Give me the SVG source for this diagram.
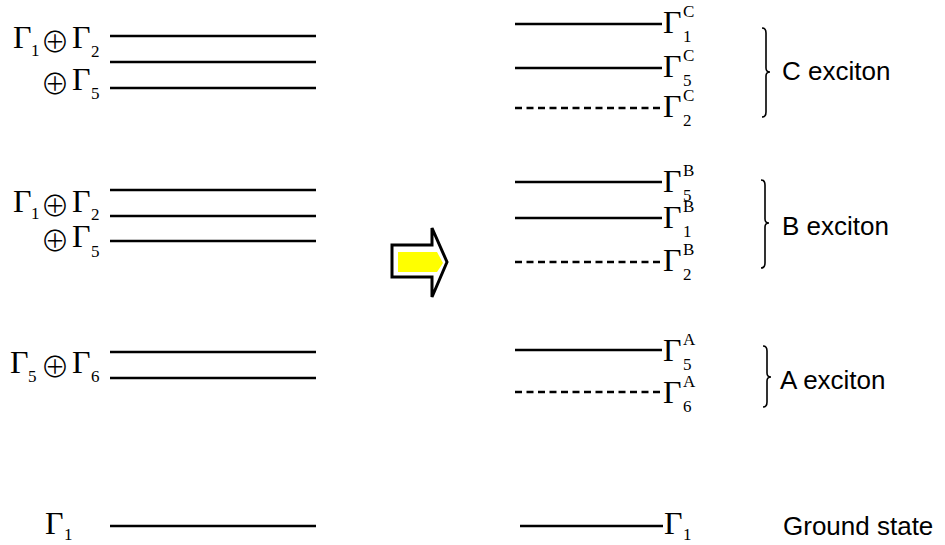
<svg xmlns="http://www.w3.org/2000/svg" width="945" height="545" viewBox="0 0 945 545">
<style>
.g{font-family:"Liberation Serif","DejaVu Serif",serif;font-size:32px;fill:#000}
.s{font-family:"Liberation Serif","DejaVu Serif",serif;font-size:17px;fill:#000}
.o{font-family:"Noto Sans CJK JP","DejaVu Sans",sans-serif;font-weight:300;font-size:29px;fill:#000;text-anchor:middle}
.t{font-family:"Liberation Sans",Arial,sans-serif;font-size:26px;fill:#000}
.l{stroke:#000;stroke-width:2.6;fill:none}
.d{stroke:#000;stroke-width:2.6;fill:none;stroke-dasharray:7 4.5}
.b{stroke:#000;stroke-width:1.6;fill:none}
</style>
<rect width="945" height="545" fill="#fff"/>
<g id="connectors">
<line class="l" x1="110" y1="36" x2="316" y2="36"/>
<line class="l" x1="110" y1="62" x2="316" y2="62"/>
<line class="l" x1="110" y1="88" x2="316" y2="88"/>
<line class="l" x1="110" y1="190" x2="316" y2="190"/>
<line class="l" x1="110" y1="216" x2="316" y2="216"/>
<line class="l" x1="110" y1="241" x2="316" y2="241"/>
<line class="l" x1="110" y1="352" x2="316" y2="352"/>
<line class="l" x1="110" y1="378" x2="316" y2="378"/>
<line class="l" x1="110" y1="526" x2="316" y2="526"/>
<line class="l" x1="515" y1="24" x2="662" y2="24"/>
<line class="l" x1="515" y1="68" x2="662" y2="68"/>
<line class="d" x1="515" y1="108" x2="662" y2="108"/>
<line class="l" x1="515" y1="182" x2="662" y2="182"/>
<line class="l" x1="515" y1="218" x2="662" y2="218"/>
<line class="d" x1="515" y1="262" x2="662" y2="262"/>
<line class="l" x1="515" y1="350" x2="662" y2="350"/>
<line class="d" x1="515" y1="392" x2="662" y2="392"/>
<line class="l" x1="520" y1="526" x2="663" y2="526"/>
</g>
<g id="left-C">
<text class="g" x="13" y="48">Γ</text><text class="s" x="31" y="56">1</text>
<text class="o" x="55" y="53">⊕</text>
<text class="g" x="72" y="48">Γ</text><text class="s" x="91" y="57">2</text>
<text class="o" x="55" y="95">⊕</text>
<text class="g" x="72" y="90">Γ</text><text class="s" x="91" y="99">5</text>
</g>
<g id="left-B">
<text class="g" x="13" y="212">Γ</text><text class="s" x="31" y="219">1</text>
<text class="o" x="55" y="217">⊕</text>
<text class="g" x="72" y="212">Γ</text><text class="s" x="91" y="220">2</text>
<text class="o" x="55" y="252">⊕</text>
<text class="g" x="72" y="247">Γ</text><text class="s" x="91" y="257">5</text>
</g>
<g id="left-A">
<text class="g" x="10" y="373">Γ</text><text class="s" x="28" y="382">5</text>
<text class="o" x="55" y="378">⊕</text>
<text class="g" x="72" y="373">Γ</text><text class="s" x="91" y="382">6</text>
</g>
<g id="left-ground">
<text class="g" x="45" y="534">Γ</text><text class="s" x="64" y="540">1</text>
</g>
<g id="arrow">
<polygon points="392,245 432,245 432,228 447,262 432,297 432,277 392,277" fill="#fff" stroke="#000" stroke-width="3" stroke-linejoin="miter"/>
<polygon points="398,252 437,252 443,263 437,272 398,272" fill="#ffff00"/>
</g>
<g id="right-C">
<text class="g" x="663" y="33">Γ</text><text class="s" x="683" y="17">C</text><text class="s" x="683" y="42">1</text>
<text class="g" x="663" y="77">Γ</text><text class="s" x="683" y="61">C</text><text class="s" x="683" y="86">5</text>
<text class="g" x="663" y="117">Γ</text><text class="s" x="683" y="101">C</text><text class="s" x="683" y="126">2</text>
</g>
<g id="right-B">
<text class="g" x="663" y="192">Γ</text><text class="s" x="683" y="176">B</text><text class="s" x="683" y="201">5</text>
<text class="g" x="663" y="228">Γ</text><text class="s" x="683" y="212">B</text><text class="s" x="683" y="237">1</text>
<text class="g" x="663" y="271">Γ</text><text class="s" x="683" y="255">B</text><text class="s" x="683" y="280">2</text>
</g>
<g id="right-A">
<text class="g" x="663" y="361">Γ</text><text class="s" x="683" y="345">A</text><text class="s" x="683" y="370">5</text>
<text class="g" x="663" y="403">Γ</text><text class="s" x="683" y="387">A</text><text class="s" x="683" y="412">6</text>
</g>
<g id="right-ground">
<text class="g" x="664" y="534">Γ</text><text class="s" x="683" y="540">1</text>
</g>
<g id="brace-C">
<path class="b" d="M762,28 Q766,28 766,33 L766,68 Q766,72 770,72 Q766,72 766,76 L766,112 Q766,117 762,117"/>
<text class="t" x="782" y="80">C exciton</text>
</g>
<g id="brace-B">
<path class="b" d="M761,180 Q765,180 765,185 L765,219 Q765,223 769,223 Q765,223 765,227 L765,263 Q765,268 761,268"/>
<text class="t" x="782" y="235">B exciton</text>
</g>
<g id="brace-A">
<path class="b" d="M763,346 Q767,346 767,351 L767,373 Q767,377 771,377 Q767,377 767,381 L767,402 Q767,407 763,407"/>
<text class="t" x="780" y="389">A exciton</text>
</g>
<g id="ground-label">
<text class="t" x="783" y="535">Ground state</text>
</g>
</svg>
